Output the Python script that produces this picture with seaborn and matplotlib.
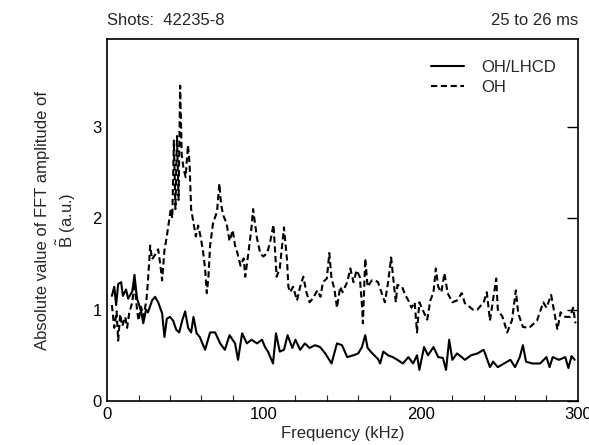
import numpy as np
import pandas as pd
import matplotlib
matplotlib.use("Agg")
import matplotlib.pyplot as plt
import seaborn as sns
from matplotlib.ticker import MultipleLocator

# ---- data ----
freq_oh = [3.0, 4.5, 6.0, 7.0, 8.3, 9.6, 11.5, 12.7, 14.0, 16.0, 17.4, 19.0, 20.0, 21.6, 23.0, 25.0,
           26.0, 27.4, 28.6, 30.5, 32.5, 33.8, 35.0, 36.5, 38.0, 39.5, 40.5, 41.5, 42.5, 43.5, 44.5,
           45.5, 46.5, 47.5, 48.6, 50.0, 51.5, 52.5, 53.5, 55.0, 56.5, 58.0, 59.5, 61.0, 62.4, 63.5, 64.5,
           65.6, 67.5, 70.0, 71.5, 72.6, 74.0, 76.0, 78.0, 80.0, 81.5, 83.0, 85.0, 87.0, 88.0, 90.0,
           92.0, 93.0, 95.5, 97.5, 99.5, 102.0, 104.0, 106.0, 107.0, 108.0, 110.0, 111.5, 112.7,
           114.6, 115.5, 116.6, 118.5, 121.0, 123.0, 125.0, 127.0, 129.0, 131.0, 134.0, 136.0,
           137.5, 140.0, 141.6, 143.0, 144.8, 146.5, 148.5, 150.0, 153.0, 155.0, 157.0, 159.0,
           161.0, 162.5, 163.0, 164.5, 166.0, 168.7, 170.7, 172.6, 175.0, 177.0, 179.0, 181.0,
           182.0, 184.0, 185.0, 188.0, 190.0, 192.0, 194.0, 196.0, 197.5, 199.0, 201.0, 204.0,
           206.0, 208.0, 209.5, 211.0, 213.0, 215.0, 217.0, 220.0, 223.0, 226.0, 228.0, 231.0,
           233.0, 236.0, 240.0, 242.0, 244.0, 248.0, 249.0, 252.0, 255.0, 258.0, 260.5, 262.0,
           265.0, 269.0, 274.0, 278.0, 280.0, 283.0, 287.0, 289.0, 292.0, 295.0, 297.0, 298.5]
amp_oh = [1.05, 0.80, 0.98, 0.66, 0.95, 0.82, 0.92, 0.80, 0.96, 1.08, 1.30, 1.00, 0.88, 1.03, 0.92, 1.10,
          1.32, 1.70, 1.55, 1.60, 1.66, 1.50, 1.32, 1.65, 1.80, 1.98, 2.10, 2.00, 2.85, 2.10, 2.90,
          2.20, 3.45, 2.70, 2.55, 2.45, 2.80, 2.60, 2.10, 1.95, 1.80, 1.92, 1.80, 1.65, 1.45, 1.18, 1.35,
          1.70, 1.95, 2.07, 2.38, 2.15, 2.03, 1.95, 1.75, 1.87, 1.70, 1.62, 1.48, 1.56, 1.36, 1.62,
          1.90, 2.10, 1.78, 1.62, 1.58, 1.62, 1.75, 1.93, 1.65, 1.36, 1.45, 1.70, 1.90,
          1.55, 1.25, 1.19, 1.25, 1.10, 1.25, 1.36, 1.19, 1.08, 1.12, 1.21, 1.14,
          1.30, 1.34, 1.62, 1.34, 1.23, 1.02, 1.25, 1.19, 1.30, 1.45, 1.30, 1.43,
          1.36, 1.03, 0.85, 1.56, 1.25, 1.32, 1.32, 1.30, 1.18, 1.08, 1.29, 1.57,
          1.40, 1.08, 1.27, 1.25, 1.16, 1.10, 1.02, 1.08, 0.75, 1.08, 1.00, 0.89,
          1.10, 1.19, 1.45, 1.25, 1.19, 1.40, 1.18, 1.08, 1.10, 1.18, 1.07, 1.03,
          1.00, 1.00, 1.08, 1.19, 0.88, 1.34, 1.00, 0.92, 0.75, 0.88, 1.21, 0.96,
          0.81, 0.80, 0.88, 1.08, 1.02, 1.16, 0.78, 0.97, 0.92, 0.92, 1.02, 0.85]

freq_lhcd = [3.0, 4.5, 5.7, 7.0, 8.9, 10.0, 12.0, 13.4, 16.0, 17.4, 19.0, 20.4, 21.6, 23.0, 24.8, 26.0,
             28.6, 30.5, 32.5, 35.0, 36.5, 38.0, 40.0, 42.0, 44.0, 45.9, 47.8, 49.7, 51.6, 53.5, 55.0,
             57.0, 59.0, 62.4, 65.6, 68.8, 72.0, 75.0, 78.0, 81.5, 83.4, 86.0, 89.0, 92.0, 95.5, 98.7,
             100.6, 102.5, 105.7, 107.6, 110.0, 112.7, 115.0, 118.0, 120.0, 123.0, 126.0, 129.0,
             132.5, 135.7, 139.0, 143.0, 146.5, 149.7, 153.0, 157.0, 160.0, 162.4, 164.5, 166.0,
             169.0, 172.6, 174.0, 176.0, 179.0, 182.0, 185.0, 188.5, 192.0, 195.0, 197.5, 199.0,
             202.0, 204.5, 208.0, 211.0, 214.0, 216.0, 218.0, 220.0, 223.0, 226.0, 228.0, 232.0,
             236.0, 240.0, 244.0, 246.0, 249.0, 253.0, 257.0, 260.0, 263.0, 265.0, 267.0, 271.0,
             276.0, 280.0, 282.0, 284.0, 288.0, 292.0, 294.0, 296.0, 298.0]
amp_lhcd = [1.15, 1.25, 1.05, 1.28, 1.30, 1.15, 1.22, 1.12, 1.20, 1.38, 1.12, 1.05, 0.98, 0.85, 1.00, 0.97,
            1.10, 1.14, 1.08, 0.96, 0.70, 0.90, 0.92, 0.88, 0.78, 0.75, 0.88, 0.98, 0.80, 0.75, 0.92,
            0.74, 0.70, 0.56, 0.75, 0.75, 0.63, 0.56, 0.72, 0.63, 0.45, 0.74, 0.63, 0.67, 0.63, 0.67,
            0.59, 0.54, 0.41, 0.74, 0.54, 0.56, 0.72, 0.58, 0.67, 0.56, 0.63, 0.58,
            0.61, 0.59, 0.52, 0.41, 0.63, 0.61, 0.48, 0.50, 0.52, 0.59, 0.72, 0.58,
            0.52, 0.46, 0.41, 0.54, 0.50, 0.48, 0.45, 0.41, 0.48, 0.41, 0.50, 0.34,
            0.59, 0.50, 0.59, 0.48, 0.47, 0.34, 0.67, 0.45, 0.52, 0.48, 0.45, 0.50,
            0.52, 0.56, 0.37, 0.43, 0.37, 0.41, 0.45, 0.37, 0.48, 0.61, 0.43, 0.41,
            0.41, 0.48, 0.37, 0.48, 0.45, 0.48, 0.36, 0.49, 0.45]

series_names = ["OH/LHCD", "OH"]
x_ticks = [0, 100, 200, 300]
y_ticks = [0, 1, 2, 3]

df = pd.concat([
    pd.DataFrame({"freq": freq_lhcd, "amp": amp_lhcd, "series": series_names[0]}),
    pd.DataFrame({"freq": freq_oh, "amp": amp_oh, "series": series_names[1]}),
], ignore_index=True)

sns.set_style("white")
plt.rcParams["font.family"] = ["Liberation Sans", "DejaVu Sans"]
plt.rcParams["mathtext.fontset"] = "custom"
plt.rcParams["mathtext.rm"] = "Liberation Sans"
plt.rcParams["mathtext.it"] = "Liberation Sans"

fig = plt.figure(figsize=(5.89, 4.45), dpi=100)
ax = fig.add_axes([0.182, 0.099, 0.799, 0.813])

sns.lineplot(data=df, x="freq", y="amp", hue="series", style="series",
             hue_order=series_names, style_order=series_names,
             palette=["black", "black"],
             dashes={"OH/LHCD": "", "OH": (3.0, 1.7)},
             estimator=None, sort=True, linewidth=1.5, ax=ax)

ax.set_xlim(0, 300)
ax.set_ylim(0, 3.96)
ax.set_xticks(x_ticks)
ax.set_yticks(y_ticks)
ax.xaxis.set_minor_locator(MultipleLocator(20))
ax.tick_params(axis="both", which="major", direction="in", length=8, width=1.0,
               labelsize=12, colors="black", pad=4)
ax.tick_params(axis="x", which="minor", direction="in", length=4, width=0.8, bottom=True)
ax.tick_params(axis="y", which="major", right=True)
for s in ax.spines.values():
    s.set_color("black")
    s.set_linewidth(1.2)

ax.set_xlabel("Frequency (kHz)", fontsize=12, labelpad=3)
ax.set_ylabel("Absolute value of FFT amplitude of\n" + r"$\tilde{\mathrm{B}}$ (a.u.)",
              fontsize=12, labelpad=10, linespacing=1.3)

leg = ax.legend(loc="upper right", bbox_to_anchor=(0.985, 0.985), frameon=False,
                fontsize=12, handlelength=2.0, handletextpad=1.0, labelspacing=0.3)

ax.text(0.0, 1.03, "Shots:  42235-8", transform=ax.transAxes, fontsize=12,
        ha="left", va="bottom")
ax.text(1.0, 1.03, "25 to 26 ms", transform=ax.transAxes, fontsize=12,
        ha="right", va="bottom")

fig.savefig("out.png", dpi=100, facecolor="white")
